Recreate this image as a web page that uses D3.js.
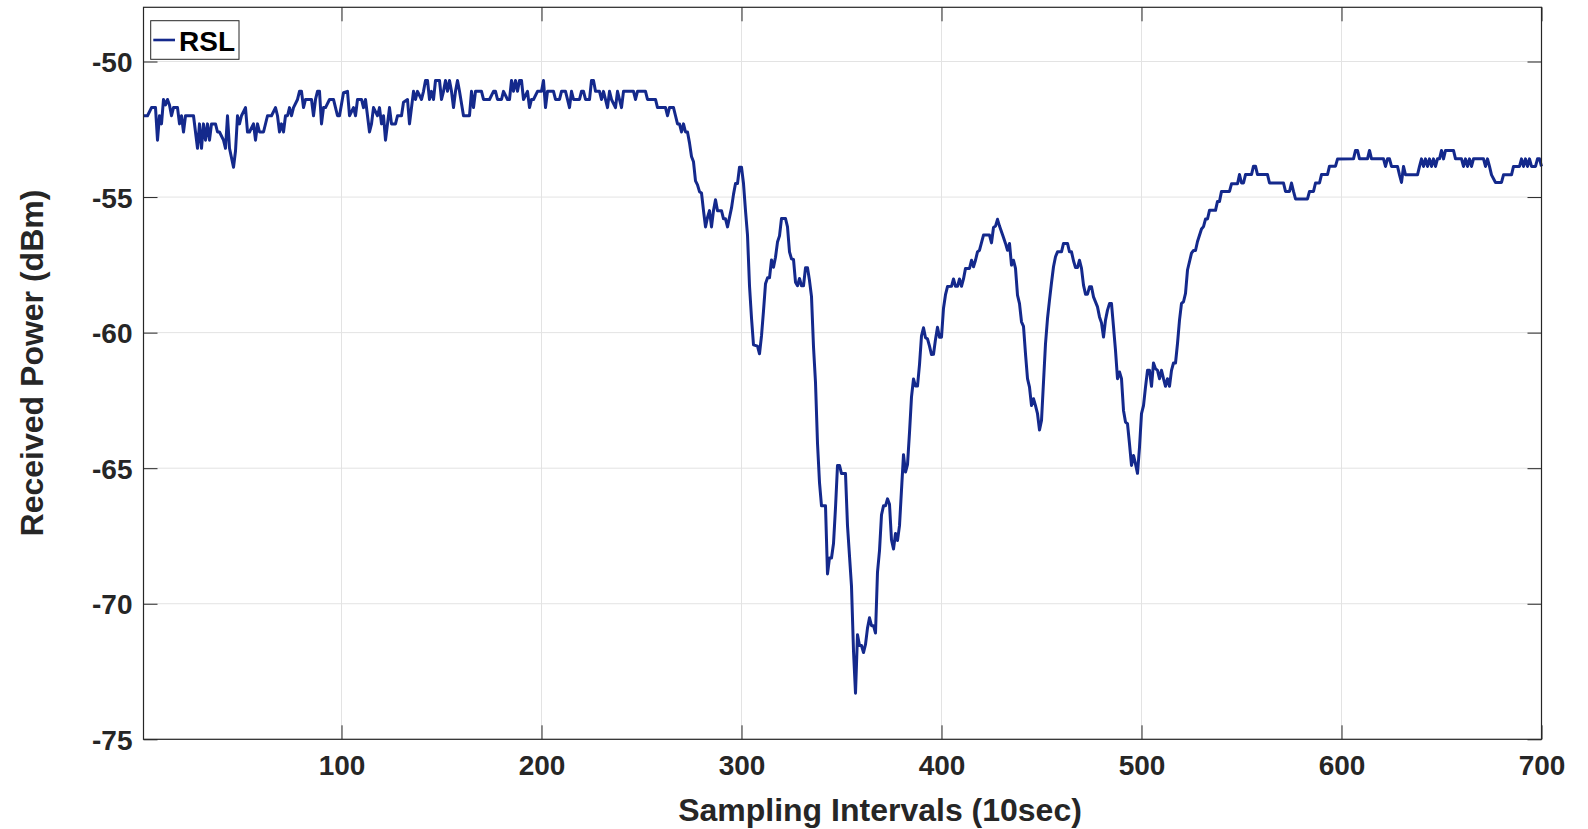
<!DOCTYPE html>
<html>
<head>
<meta charset="utf-8">
<script src="https://cdn.jsdelivr.net/npm/d3@7"></script>
<style>
  html, body { margin: 0; padding: 0; background: #fff; }
  svg { display: block; font-family: "Liberation Sans", Arial, Helvetica, sans-serif; }
</style>
</head>
<body>
<svg id="chart" width="1588" height="829"></svg>
<script>
// ---- Data ----
const seriesName = "RSL";
const xTicks = [100, 200, 300, 400, 500, 600, 700];
const yTicks = [-75, -70, -65, -60, -55, -50];
const xLabel = "Sampling Intervals (10sec)";
const yLabel = "Received Power (dBm)";

const xs = [
1,3,5,7,8,9,10,11,12,13,14,15,16,18,19,20,21,22,26,27,28,29,30,31,32,33,34,35,37,38,39,41,42,43,44,46,47,48,49,50,
52,53,54,56,57,58,59,61,63,65,67,68,69,70,71,72,73,74,75,76,78,79,80,81,82,85,86,87,88,89,90,91,92,94,96,97,98,
99,101,103,104,106,107,108,110,111,112,114,115,116,118,119,120,121,122,123,124,125,127,128,130,131,133,134,135,136,137,138,140,141,142,143,144,145,146,147,149,150,151,
152,153,154,155,156,157,158,159,161,164,165,166,167,170,171,174,176,177,178,180,181,183,184,185,186,187,188,189,190,191,193,194,195,196,198,200,201,202,203,
206,207,209,210,212,213,214,215,216,219,220,221,222,224,225,226,227,229,230,231,233,234,235,237,238,240,241,246,247,248,252,253,257,258,262,263,264,266,267,268,269,270,271,272,273,274,275,276,277,278,279,280,
281,282,283,284,285,286,287,288,290,291,292,293,294,295,296,297,298,299,300,301,302,303,304,305,306,308,309,310,311,312,313,314,315,316,317,318,319,320,322,323,324,325,326,327,328,329,330,331,332,333,334,335,336,337,338,339,340,
342,343,344,345,346,347,348,349,350,351,352,353,355,356,357,358,359,360,361,362,363,364,365,366,367,368,369,370,371,372,373,374,375,376,377,378,379,380,381,382,383,384,385,386,387,388,389,390,391,392,393,394,395,396,397,398,399,400,401,402,403,
405,406,407,408,409,410,411,412,414,415,416,417,418,419,421,424,425,426,427,428,429,431,432,433,434,435,436,437,438,439,440,441,442,443,444,445,446,447,448,449,450,451,452,453,454,455,456,457,458,460,461,463,464,465,466,467,468,469,470,
471,472,473,474,475,476,478,479,480,481,482,483,484,485,486,487,488,489,490,491,492,493,494,495,496,497,498,499,500,501,502,503,504,
505,506,507,508,509,510,511,512,513,514,515,516,517,518,519,520,521,522,523,525,526,527,528,530,531,532,533,534,537,538,539,540,544,545,548,549,550,551,552,555,556,557,558,563,564,571,572,574,575,576,577,583,584,586,587,589,590,593,594,597,598,
606,607,608,609,613,614,615,621,622,623,624,625,628,629,630,631,632,638,639,640,641,642,643,644,645,646,647,648,649,650,651,652,656,657,660,661,662,663,664,665,666,671,672,673,674,675,677,680,681,685,686,689,690,691,692,693,694,695,697,698,699,700
];

const ys = [
-52.0,-52.0,-51.7,-51.7,-52.9,-52.0,-52.3,-51.4,-51.6,-51.4,-51.6,-52.0,-51.7,-51.7,-52.3,-52.0,-52.6,-52.0,-52.0,-52.6,-53.2,-52.3,-53.2,-52.3,-52.9,-52.3,-52.9,-52.3,-52.3,-52.6,-52.6,-52.9,-53.2,-52.0,-53.2,-53.9,-53.3,-52.0,-52.3,-52.0,
-51.7,-52.6,-52.6,-52.3,-52.9,-52.3,-52.6,-52.6,-52.0,-52.0,-51.7,-52.0,-52.6,-52.3,-52.6,-52.0,-52.0,-51.7,-52.0,-51.7,-51.4,-51.1,-51.1,-51.7,-51.4,-51.4,-52.0,-51.4,-51.1,-51.1,-52.3,-51.7,-51.7,-51.4,-51.4,-51.7,-52.0,
-52.0,-51.15,-51.1,-52.0,-51.7,-52.0,-51.4,-51.4,-51.7,-51.4,-52.6,-52.3,-51.7,-52.0,-51.7,-52.3,-52.0,-52.9,-52.3,-51.7,-52.3,-52.3,-52.0,-52.0,-51.5,-51.4,-52.3,-51.7,-51.1,-51.4,-51.1,-51.4,-51.1,-50.7,-50.7,-51.4,-51.1,-51.4,-50.7,-50.7,-51.4,-51.1,
-50.7,-51.1,-50.7,-51.1,-51.7,-51.1,-50.7,-51.1,-52.0,-52.0,-51.1,-51.7,-51.1,-51.1,-51.4,-51.4,-51.1,-51.1,-51.4,-51.4,-51.1,-51.4,-51.4,-50.7,-51.1,-50.7,-51.1,-50.7,-50.7,-51.4,-51.1,-51.7,-51.4,-51.4,-51.1,-51.1,-50.7,-51.7,-51.1,
-51.1,-51.4,-51.4,-51.1,-51.1,-51.4,-51.7,-51.1,-51.4,-51.4,-51.1,-51.1,-51.4,-51.4,-50.7,-50.7,-51.1,-51.1,-51.4,-51.1,-51.7,-51.1,-51.4,-51.7,-51.1,-51.7,-51.1,-51.1,-51.4,-51.1,-51.1,-51.4,-51.4,-51.7,-51.7,-52.0,-51.7,-51.7,-52.0,-52.3,-52.3,-52.6,-52.3,-52.6,-52.6,-53.0,-53.5,-53.7,-54.4,-54.55,-54.8,-54.85,
-55.5,-56.1,-55.75,-55.5,-56.1,-55.5,-55.1,-55.5,-55.5,-55.8,-55.8,-56.1,-55.75,-55.4,-54.9,-54.5,-54.5,-53.9,-53.9,-54.5,-55.5,-56.4,-58.27,-59.46,-60.45,-60.5,-60.78,-60.12,-59.2,-58.2,-57.98,-57.98,-57.32,-57.59,-57.22,-56.66,-56.43,-55.79,-55.79,-56.1,-57.02,-57.28,-57.3,-58.14,-58.27,-58.0,-58.27,-58.27,-57.61,-57.61,-58.08,-58.67,-60.52,-61.84,-64.08,-65.53,-66.39,
-66.39,-68.9,-68.31,-68.31,-67.78,-66.46,-64.9,-64.9,-65.2,-65.2,-65.2,-67.12,-69.36,-71.74,-73.3,-71.14,-71.54,-71.54,-71.8,-71.5,-70.9,-70.52,-70.81,-70.81,-71.08,-68.83,-68.04,-66.72,-66.39,-66.39,-66.13,-66.33,-67.65,-67.98,-67.41,-67.67,-67.12,-65.8,-64.5,-65.14,-64.87,-63.69,-62.37,-61.71,-61.97,-61.97,-61.18,-60.12,-59.82,-60.19,-60.23,-60.5,-60.81,-60.8,-60.25,-59.8,-60.17,-60.17,-59.1,-58.6,-58.3,
-58.29,-58.02,-58.29,-58.29,-58.02,-58.29,-58.02,-57.63,-57.63,-57.33,-57.57,-57.33,-57.02,-56.96,-56.4,-56.4,-56.69,-56.12,-56.07,-55.82,-56.07,-56.49,-56.71,-56.96,-56.71,-57.51,-57.33,-57.63,-58.62,-58.93,-59.6,-59.77,-60.78,-61.7,-62.01,-62.69,-62.44,-62.69,-62.99,-63.59,-63.24,-61.82,-60.41,-59.48,-58.8,-58.16,-57.57,-57.2,-57.02,-57.02,-56.71,-56.71,-57.02,-57.02,-57.35,-57.6,-57.6,-57.33,-57.63,
-58.25,-58.58,-58.58,-58.31,-58.31,-58.68,-59.05,-59.42,-59.64,-60.16,-59.54,-59.17,-58.93,-58.93,-59.79,-60.65,-61.7,-61.45,-61.7,-62.87,-63.3,-63.36,-64.1,-64.9,-64.53,-64.84,-65.19,-64.23,-62.99,-62.69,-62.01,-61.39,-61.39,
-61.98,-61.12,-61.33,-61.39,-61.7,-61.39,-61.7,-61.98,-61.7,-61.98,-61.39,-61.12,-61.12,-60.4,-59.54,-58.92,-58.86,-58.55,-57.69,-57.07,-56.97,-56.97,-56.64,-56.18,-56.09,-55.81,-55.81,-55.49,-55.49,-55.16,-55.16,-54.79,-54.79,-54.51,-54.51,-54.17,-54.48,-54.48,-54.17,-54.17,-53.86,-53.86,-54.17,-54.17,-54.48,-54.48,-54.79,-54.79,-54.48,-54.79,-55.07,-55.07,-54.79,-54.79,-54.48,-54.48,-54.17,-54.17,-53.86,-53.86,-53.6,
-53.59,-53.28,-53.28,-53.59,-53.59,-53.28,-53.59,-53.59,-53.87,-53.59,-53.59,-53.87,-53.87,-54.18,-54.46,-53.87,-54.18,-54.18,-53.87,-53.59,-53.87,-53.59,-53.87,-53.59,-53.87,-53.59,-53.87,-53.59,-53.59,-53.28,-53.59,-53.28,-53.28,-53.59,-53.59,-53.87,-53.59,-53.87,-53.59,-53.87,-53.59,-53.59,-53.87,-53.59,-53.87,-54.18,-54.46,-54.46,-54.18,-54.18,-53.87,-53.87,-53.59,-53.87,-53.59,-53.87,-53.59,-53.87,-53.87,-53.59,-53.59,-53.87
];

// ---- Layout ----
const W = 1588, H = 829;
const m = { left: 143.5, right: 1541.5, top: 7.3, bottom: 739.3 };
const axisColor = "#262626";
const gridColor = "#e3e3e3";
const lineColor = "#14298c";

const svg = d3.select("#chart");

const x = d3.scaleLinear().domain([1, 700]).range([m.left, m.right]);
const y = d3.scaleLinear().domain([-75, -48]).range([m.bottom, m.top]);

svg.append("rect").attr("x", 0).attr("y", 0).attr("width", W).attr("height", H).attr("fill", "#fff");

// grid
const grid = svg.append("g");
grid.selectAll("line.gx").data(xTicks).enter().append("line")
  .attr("x1", d => x(d)).attr("x2", d => x(d))
  .attr("y1", m.top).attr("y2", m.bottom)
  .attr("stroke", gridColor).attr("stroke-width", 1);
grid.selectAll("line.gy").data(yTicks).enter().append("line")
  .attr("x1", m.left).attr("x2", m.right)
  .attr("y1", d => y(d)).attr("y2", d => y(d))
  .attr("stroke", gridColor).attr("stroke-width", 1);

// axes with inward ticks (box style)
const tickLen = 14;
const fontTick = 28;
const fmt = d => String(d);

const bottomAxis = d3.axisBottom(x).tickValues(xTicks).tickSize(-tickLen).tickFormat(fmt);
const gB = svg.append("g").attr("transform", `translate(0,${m.bottom})`).call(bottomAxis);
const leftAxis = d3.axisLeft(y).tickValues(yTicks).tickSize(-tickLen).tickFormat(fmt);
const gL = svg.append("g").attr("transform", `translate(${m.left},0)`).call(leftAxis);
const topAxis = d3.axisTop(x).tickValues(xTicks).tickSize(-tickLen).tickFormat("");
const gT = svg.append("g").attr("transform", `translate(0,${m.top})`).call(topAxis);
const rightAxis = d3.axisRight(y).tickValues(yTicks).tickSize(-tickLen).tickFormat("");
const gR = svg.append("g").attr("transform", `translate(${m.right},0)`).call(rightAxis);

[gB, gL, gT, gR].forEach(g => {
  g.select(".domain").remove();
  g.selectAll(".tick line").attr("stroke", axisColor).attr("stroke-width", 1);
  g.selectAll("text")
    .attr("fill", axisColor)
    .style("font-size", fontTick + "px")
    .style("font-weight", "bold")
    .style("font-family", "'Liberation Sans', Arial, Helvetica, sans-serif");
});
gB.selectAll(".tick text").attr("dy", "0.71em").attr("y", 16);
gL.selectAll(".tick text").attr("x", -11).attr("dy", "0.36em");

// line
const pts = xs.map((d, i) => [d, ys[i]]);
const line = d3.line().x(d => x(d[0])).y(d => y(d[1]));
svg.append("path").datum(pts)
  .attr("d", line)
  .attr("fill", "none")
  .attr("stroke", lineColor)
  .attr("stroke-width", 3)
  .attr("stroke-linejoin", "round");

// box
svg.append("rect")
  .attr("x", m.left).attr("y", m.top)
  .attr("width", m.right - m.left).attr("height", m.bottom - m.top)
  .attr("fill", "none").attr("stroke", axisColor).attr("stroke-width", 1.2);

// axis labels
svg.append("text")
  .attr("x", 880).attr("y", 821)
  .attr("text-anchor", "middle")
  .attr("fill", axisColor)
  .style("font-size", "32px").style("font-weight", "bold")
  .text(xLabel);
svg.append("text")
  .attr("transform", "translate(43,363) rotate(-90)")
  .attr("text-anchor", "middle")
  .attr("fill", axisColor)
  .style("font-size", "32px").style("font-weight", "bold")
  .text(yLabel);

// legend
const lg = svg.append("g");
lg.append("rect")
  .attr("x", 150.7).attr("y", 20.7).attr("width", 88.3).attr("height", 38.6)
  .attr("fill", "#fff").attr("stroke", axisColor).attr("stroke-width", 1);
lg.append("line")
  .attr("x1", 153.3).attr("x2", 175).attr("y1", 40).attr("y2", 40)
  .attr("stroke", lineColor).attr("stroke-width", 2.6);
lg.append("text")
  .attr("x", 179).attr("y", 50.7)
  .attr("fill", "#000")
  .style("font-size", "28px").style("font-weight", "bold")
  .text(seriesName);
</script>
</body>
</html>
